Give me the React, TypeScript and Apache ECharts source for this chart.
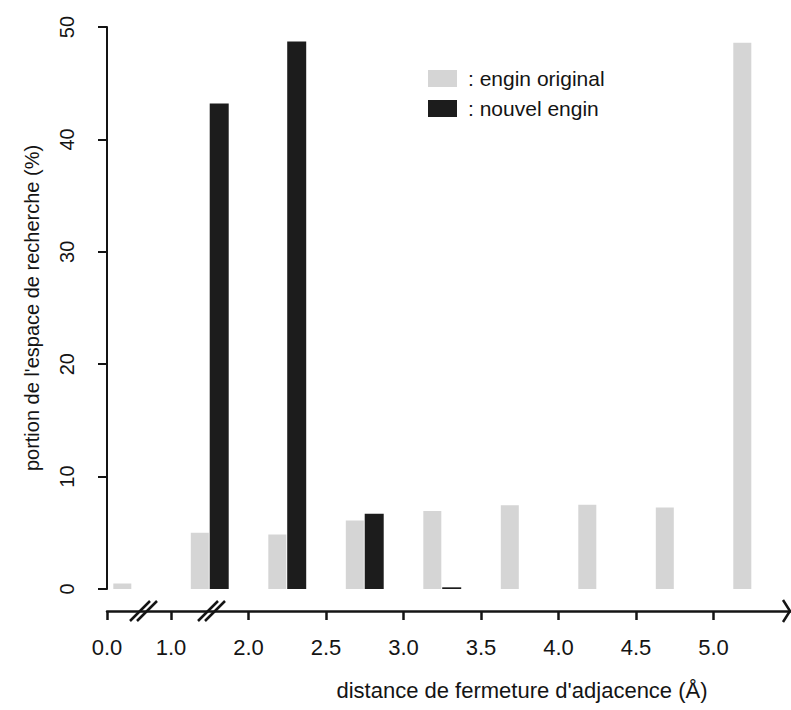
import React, { useEffect, useRef } from "react";
import * as echarts from "echarts";

// bins (internal slot positions on the broken distance axis)
const binPositions = [0.5, 1.5, 2.5, 3.5, 4.5, 5.5, 6.5, 7.5, 8.5];
const originalEngine = [0.5, 5.0, 4.85, 6.1, 6.95, 7.45, 7.5, 7.25, 48.6];
const newEngine = [0, 43.2, 48.7, 6.7, 0.15, 0, 0, 0, 0];
const tickPositions = [0.174, 1, 2, 3, 4, 5, 6, 7, 8];
const tickLabels = ["0.0", "1.0", "2.0", "2.5", "3.0", "3.5", "4.0", "4.5", "5.0"];
const yTicks = [0, 10, 20, 30, 40, 50];

const FONT = "'Liberation Sans', Arial, Helvetica, sans-serif";
const INK = "#141414";

export default function App() {
  const ref = useRef<HTMLDivElement>(null);
  useEffect(() => {
    if (!ref.current) return;
    const chart = echarts.init(ref.current, undefined, { renderer: "svg" });
    const breakMark = (cx: number, cy: number) => ({
      type: "group",
      children: [
        { type: "line", shape: { x1: cx - 14, y1: cy + 10, x2: cx + 6, y2: cy - 10 }, style: { stroke: INK, lineWidth: 2.5 } },
        { type: "line", shape: { x1: cx - 7, y1: cy + 10, x2: cx + 13, y2: cy - 10 }, style: { stroke: INK, lineWidth: 2.5 } },
      ],
    });
    chart.setOption({
      animation: false,
      backgroundColor: "#ffffff",
      textStyle: { fontFamily: FONT, color: INK },
      grid: { left: 107, right: 0, top: 27, bottom: 121, containLabel: false },
      legend: {
        left: 423,
        top: 63,
        orient: "vertical",
        icon: "rect",
        itemWidth: 29,
        itemHeight: 17,
        itemGap: 9,
        formatter: ": {name}",
        textStyle: { fontFamily: FONT, fontSize: 21, color: INK, padding: [0, 0, 0, 6] },
        data: ["engin original", "nouvel engin"],
      },
      xAxis: {
        type: "value",
        min: 0.174,
        max: 9,
        offset: 22,
        splitLine: { show: false },
        axisLine: { show: true, onZero: false, lineStyle: { color: INK, width: 2.5 } },
        axisTick: { show: true, customValues: tickPositions, length: 9, lineStyle: { color: INK, width: 2.5 } },
        axisLabel: {
          customValues: tickPositions,
          showMinLabel: true,
          showMaxLabel: true,
          margin: 25,
          fontSize: 22,
          fontFamily: FONT,
          color: INK,
          formatter: (v: number) => {
            const i = tickPositions.findIndex((p) => Math.abs(p - v) < 1e-6);
            return i >= 0 ? tickLabels[i] : "";
          },
        },
      },
      yAxis: {
        type: "value",
        min: 0,
        max: 50,
        interval: 10,
        name: "portion de l'espace de recherche (%)",
        nameLocation: "middle",
        nameGap: 65,
        nameTextStyle: { fontSize: 20, fontFamily: FONT, color: INK },
        splitLine: { show: false },
        axisLine: { show: true, lineStyle: { color: INK, width: 2 } },
        axisTick: { show: true, length: 9, lineStyle: { color: INK, width: 2 } },
        axisLabel: {
          rotate: 90,
          margin: 30,
          fontSize: 20,
          fontFamily: FONT,
          color: INK,
          formatter: (v: number) => (yTicks.includes(v) ? String(v) : ""),
        },
      },
      series: [
        {
          name: "engin original",
          type: "bar",
          barWidth: 18,
          barGap: "5%",
          itemStyle: { color: "#d5d5d5" },
          data: binPositions.map((x, i) => [x, originalEngine[i]]),
        },
        {
          name: "nouvel engin",
          type: "bar",
          barWidth: 19,
          barGap: "5%",
          itemStyle: { color: "#1c1c1c" },
          data: binPositions.map((x, i) => [x, newEngine[i]]),
        },
      ],
      graphic: [
        breakMark(144, 611),
        breakMark(212, 611),
        {
          type: "polyline",
          shape: { points: [[783, 600], [790, 611], [783, 622]] },
          style: { stroke: INK, lineWidth: 2.5, fill: "none" },
        },
        {
          type: "text",
          x: 522,
          y: 690,
          style: {
            text: "distance de fermeture d'adjacence (Å)",
            fontSize: 22,
            fontFamily: FONT,
            fill: INK,
            align: "center",
            verticalAlign: "middle",
          },
        },
      ],
    });
    return () => chart.dispose();
  }, []);
  return <div ref={ref} style={{ position: "fixed", left: 0, top: 0, width: 791, height: 710 }} />;
}
